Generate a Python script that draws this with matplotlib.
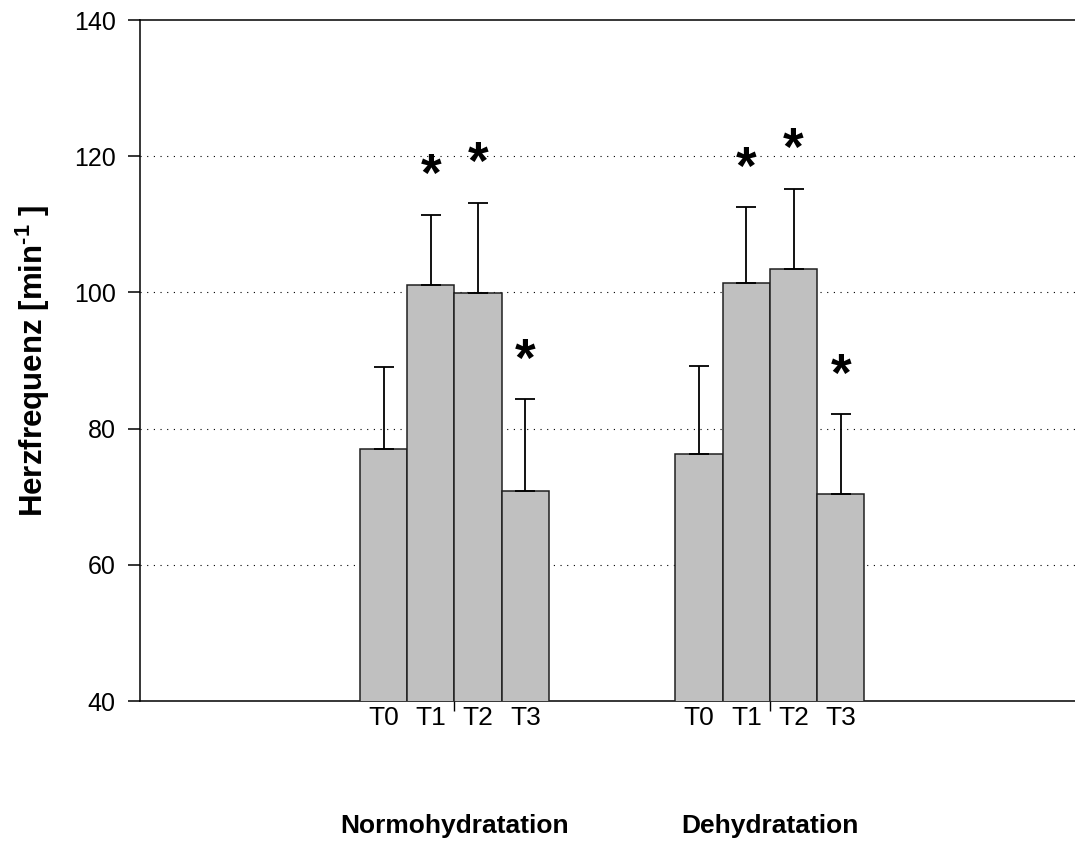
import numpy as np
import matplotlib
matplotlib.use('Agg')
import matplotlib.pyplot as plt
from matplotlib.transforms import blended_transform_factory

plt.rcParams['font.family'] = ['Liberation Sans', 'DejaVu Sans']

# data
groups = ['Normohydratation', 'Dehydratation']
times = ['T0', 'T1', 'T2', 'T3']
normo_mean = [77.0, 101.1, 99.9, 70.9]
normo_sd = [12.1, 10.3, 13.3, 13.4]
dehy_mean = [76.2, 101.4, 103.5, 70.4]
dehy_sd = [13.0, 11.1, 11.7, 11.7]
signif = [False, True, True, True]  # '*' over T1..T3 in both groups

group_centers = [6.66, 13.34]
width = 1.0

fig = plt.figure(figsize=(10.75, 8.55), dpi=100)
ax = fig.add_axes([0.1302, 0.1801, 0.8698, 0.7965])

offsets = (np.arange(len(times)) - 1.5) * width
trans = blended_transform_factory(ax.transData, ax.transAxes)

for gc, name, mean, sd in zip(group_centers, groups,
                              [normo_mean, dehy_mean], [normo_sd, dehy_sd]):
    xs = gc + offsets
    ax.bar(xs, mean, width=width, bottom=0, color='#c0c0c0',
           edgecolor='#202020', linewidth=1.1, zorder=3)
    ax.errorbar(xs, mean, yerr=[np.zeros(len(sd)), sd], fmt='none',
                ecolor='black', elinewidth=1.3, capsize=7.5, capthick=1.3,
                zorder=4)
    for x, m, s, star in zip(xs, mean, sd, signif):
        if star:
            ax.annotate('*', (x, m + s), xytext=(0, 27), textcoords='offset points',
                        ha='center', va='center', fontsize=38, fontweight='bold')
    for x, t in zip(xs, times):
        ax.text(x, -0.0255, t, transform=trans, ha='center', va='center',
                fontsize=19)
    ax.text(gc, -0.184, name, transform=trans, ha='center', va='center',
            fontsize=19, fontweight='bold')

ax.set_xlim(0, 19.8)
ax.set_ylim(40, 140)
ax.set_yticks([40, 60, 80, 100, 120, 140])
ax.set_xticks(group_centers)
ax.set_xticklabels([])
ax.tick_params(axis='y', direction='out', length=8.6, width=1.1,
               labelsize=18, pad=9)
ax.tick_params(axis='x', direction='out', length=7, width=1.0)

for y in [60, 80, 100, 120]:
    ax.axhline(y, color='black', linewidth=0.8, linestyle=(0, (1, 5)), zorder=1)

ax.spines['right'].set_visible(False)
for s in ['left', 'top', 'bottom']:
    ax.spines[s].set_linewidth(1.1)

ax.set_ylabel('Herzfrequenz [min$^{\\mathregular{\u2010}\\mathregular{1}}$ ]', fontsize=22.5,
              fontweight='bold')
ax.yaxis.set_label_coords(-0.094, 0.5)

fig.savefig('out.png', dpi=100)
